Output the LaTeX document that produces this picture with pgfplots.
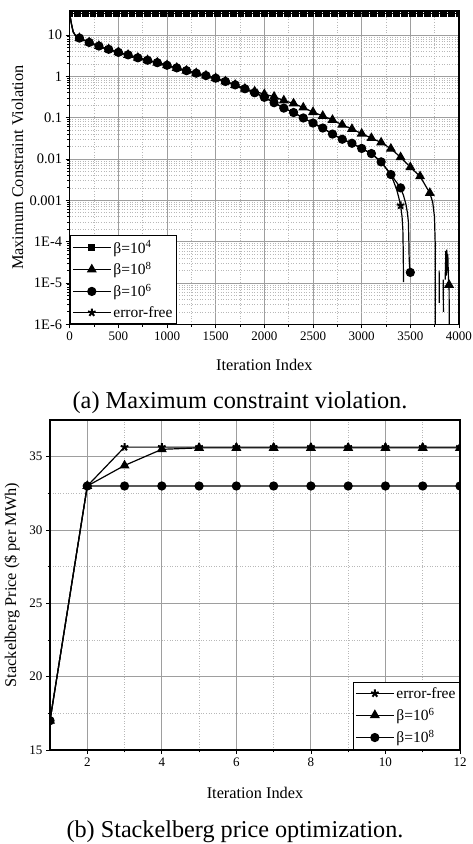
\documentclass[border=0pt]{standalone}
\usepackage{fontspec}
\setmainfont{Liberation Serif}
\usepackage{pgfplots}
\pgfplotsset{compat=1.18}

\pgfplotsset{
  common/.style={
    scale only axis,
    grid=both,
    major grid style={line width=0.9pt, color=black!38},
    minor grid style={line width=0.6pt, dotted, color=black!28},
    axis line style={line width=1.1pt, black},
    tick style={line width=0.8pt, black},
    major tick length=4pt, minor tick length=2.5pt,
    tick align=outside, tick pos=left,
    clip marker paths=true,
    unbounded coords=jump,
    label style={font=\fontsize{16.3}{16.3}\selectfont},
    legend cell align=left,
    legend image code/.code={\draw[mark repeat=2,mark phase=2] plot coordinates {(0pt,0pt)(19pt,0pt)(38pt,0pt)};},
  },
  ln/.style={black, line width=1.2pt, mark=none},
  sq/.style={black, line width=1.2pt, mark=square*, mark size=2.8pt, mark options={solid}},
  tri/.style={black, line width=1.2pt, mark=triangle*, mark size=4.6pt, mark options={solid}},
  cir/.style={black, line width=1.2pt, mark=*, mark size=4pt, mark options={solid}},
  sta/.style={black, line width=1.2pt, mark=star, mark size=4pt, mark options={solid, fill=black, line width=2pt}},
}

\pgfplotstableread{
x y
0 33
15 20
35 12
60 9.6
100 8.4
200 6.6
300 5.4
400 4.5
500 3.8
600 3.3
700 2.8
800 2.45
900 2.14
1000 1.85
1100 1.6
1200 1.37
1300 1.19
1400 1.04
1500 0.9
1600 0.75
1700 0.62
1800 0.5
1900 0.40
2000 0.31
2100 0.23
2200 0.17
2300 0.133
2400 0.098
2500 0.074
2600 0.056
2700 0.040
2800 0.030
2900 0.024
3000 0.018
3100 0.0135
3200 0.0085
3300 0.0042
3400 0.002
3430 0.0013
3455 0.0008
3470 0.0005
3480 0.0003
3485 0.0001
3488 0.00004
3492 0.000025
3500 0.000018
}\circline

\pgfplotstableread{
x y
100 8.4
200 6.6
300 5.4
400 4.5
500 3.8
600 3.3
700 2.8
800 2.45
900 2.14
1000 1.85
1100 1.6
1200 1.37
1300 1.19
1400 1.04
1500 0.9
1600 0.75
1700 0.62
1800 0.5
1900 0.40
2000 0.31
2100 0.23
2200 0.17
2300 0.133
2400 0.098
2500 0.074
2600 0.056
2700 0.040
2800 0.030
2900 0.024
3000 0.018
3100 0.0135
3200 0.0085
3300 0.0042
3400 0.002
3500 0.000018
}\circmarks

\pgfplotstableread{
x y
0 33
15 20
35 12
60 9.6
100 8.4
200 6.6
300 5.4
400 4.5
500 3.8
600 3.3
700 2.8
800 2.45
900 2.14
1000 1.85
1100 1.6
1200 1.37
1300 1.19
1400 1.04
1500 0.9
1600 0.75
1700 0.62
1800 0.5
1900 0.40
2000 0.31
2100 0.23
2200 0.17
2300 0.133
2400 0.098
2500 0.074
2600 0.056
2700 0.040
2800 0.030
2900 0.024
3000 0.018
3100 0.0135
3200 0.0085
3300 0.0042
3330 0.0028
3360 0.0018
3380 0.0012
3400 0.00075
3415 0.0004
3423 0.0002
3427 0.00006
3430 0.0000105
}\starline

\pgfplotstableread{
x y
100 8.4
200 6.6
300 5.4
400 4.5
500 3.8
600 3.3
700 2.8
800 2.45
900 2.14
1000 1.85
1100 1.6
1200 1.37
1300 1.19
1400 1.04
1500 0.9
1600 0.75
1700 0.62
1800 0.5
1900 0.40
2000 0.31
2100 0.23
2200 0.17
2300 0.133
2400 0.098
2500 0.074
2600 0.056
2700 0.040
2800 0.030
2900 0.024
3000 0.018
3100 0.0135
3200 0.0085
3300 0.0042
3400 0.00075
}\starmarks

\pgfplotstableread{
x y
0 33
15 20
35 12
60 9.6
100 8.4
200 6.6
300 5.4
400 4.5
500 3.8
600 3.3
700 2.8
800 2.45
900 2.14
1000 1.85
1100 1.6
1200 1.37
1300 1.19
1400 1.04
1500 0.9
1600 0.75
1700 0.62
1800 0.5
1900 0.43
2000 0.37
2100 0.32
2200 0.26
2300 0.22
2400 0.175
2500 0.136
2600 0.11
2700 0.088
2800 0.067
2900 0.053
3000 0.041
3100 0.032
3200 0.025
3300 0.0177
3400 0.011
3500 0.0063
3600 0.0038
3700 0.0015
3730 0.0009
3748 0.0004
3755 0.0001
3757 0.00000001
3758 nan
3796 0.00002
3797 0.0000033
3798 nan
3838 0.000012
3840 0.000002
3841 nan
3858 0.000012
3865 0.00006
3870 0.000015
3875 0.000064
3880 0.00002
3885 0.00005
3892 0.000012
3898 0.000009
3905 0.00000001
}\triline

\pgfplotstableread{
x y
100 8.4
200 6.6
300 5.4
400 4.5
500 3.8
600 3.3
700 2.8
800 2.45
900 2.14
1000 1.85
1100 1.6
1200 1.37
1300 1.19
1400 1.04
1500 0.9
1600 0.75
1700 0.62
1800 0.5
1900 0.43
2000 0.37
2100 0.32
2200 0.26
2300 0.22
2400 0.175
2500 0.136
2600 0.11
2700 0.088
2800 0.067
2900 0.053
3000 0.041
3100 0.032
3200 0.025
3300 0.0177
3400 0.011
3500 0.0063
3600 0.0038
3700 0.0015
3898 0.000009
}\trimarks

\begin{document}
\begin{tikzpicture}
\useasboundingbox (0pt,0pt) rectangle (472pt,844pt);

% ---------------- (a) ----------------
\begin{axis}[common,
  at={(69.7pt,519.7pt)}, anchor=south west,
  width=389.3pt, height=313.3pt,
  xmin=0, xmax=4000, ymode=log, ymin=1e-6, ymax=38,
  xtick={0,500,...,4000}, minor x tick num=1,
  xticklabels={0,500,1000,1500,2000,2500,3000,3500,4000},
  ytick={1e-6,1e-5,1e-4,1e-3,1e-2,1e-1,1,10},
  yticklabels={1E-6,1E-5,1E-4,0.001,0.01,0.1,1,10},
  xticklabel style={font=\fontsize{13}{13}\selectfont},
  yticklabel style={font=\fontsize{14.5}{14.5}\selectfont},
  xlabel={Iteration Index},
  ylabel={Maximum Constraint Violation},
  xlabel style={at={(axis description cs:0.5,-0.13)}, anchor=center},
  ylabel style={at={(axis description cs:-0.134,0.5)}, anchor=center},
  legend style={at={(0,0)}, anchor=south west, draw=black, line width=1pt,
    font=\fontsize{15.5}{15.5}\selectfont, row sep=4pt, inner xsep=2pt, inner ysep=3pt},
]
\addplot[sq] coordinates {(0,33)(80,33)(160,33)(240,33)(320,33)(400,33)(480,33)(560,33)(640,33)(720,33)(800,33)(880,33)(960,33)(1040,33)(1120,33)(1200,33)(1280,33)(1360,33)(1440,33)(1520,33)(1600,33)(1680,33)(1760,33)(1840,33)(1920,33)(2000,33)(2080,33)(2160,33)(2240,33)(2320,33)(2400,33)(2480,33)(2560,33)(2640,33)(2720,33)(2800,33)(2880,33)(2960,33)(3040,33)(3120,33)(3200,33)(3280,33)(3360,33)(3440,33)(3520,33)(3600,33)(3680,33)(3760,33)(3840,33)(3920,33)(4000,33)};
\addlegendentry{β=10\textsuperscript{4}}
\addplot[ln, forget plot] table {\starline};
\addplot[sta, only marks, forget plot] table {\starmarks};
\addplot[ln, forget plot] table {\circline};
\addplot[cir, only marks, forget plot] table {\circmarks};
\addplot[ln, forget plot] table {\triline};
\addplot[tri, only marks, forget plot] table {\trimarks};
\addlegendimage{tri}
\addlegendentry{β=10\textsuperscript{8}}
\addlegendimage{cir}
\addlegendentry{β=10\textsuperscript{6}}
\addlegendimage{sta}
\addlegendentry{error-free}
\end{axis}

\node[font=\fontsize{24.3}{24.3}\selectfont] at (240pt,441pt) {(a) Maximum constraint violation.};

% ---------------- (b) ----------------
\begin{axis}[common,
  at={(50pt,94pt)}, anchor=south west,
  width=410pt, height=330pt,
  xmin=1, xmax=12, ymin=15, ymax=37.5,
  xtick={2,4,...,12}, minor x tick num=1,
  xticklabels={2,4,6,8,10,12},
  ytick={15,20,25,30,35}, minor y tick num=1,
  yticklabels={15,20,25,30,35},
  ticklabel style={font=\fontsize{13}{13}\selectfont},
  xlabel={Iteration Index},
  ylabel={Stackelberg Price (\$ per MWh)},
  xlabel style={at={(axis description cs:0.5,-0.131)}, anchor=center},
  ylabel style={at={(axis description cs:-0.093,0.5)}, anchor=center},
  legend style={at={(1,0)}, anchor=south east, draw=black, line width=1pt,
    font=\fontsize{15.5}{15.5}\selectfont, row sep=4.5pt, inner xsep=2pt, inner ysep=3pt},
]
\addplot[sta] coordinates {(1,17)(2,33)(3,35.65)(4,35.65)(5,35.65)(6,35.65)(7,35.65)(8,35.65)(9,35.65)(10,35.65)(11,35.65)(12,35.65)};
\addlegendentry{error-free}
\addplot[tri] coordinates {(1,17)(2,33)(3,34.4)(4,35.5)(5,35.6)(6,35.6)(7,35.6)(8,35.6)(9,35.6)(10,35.6)(11,35.6)(12,35.6)};
\addlegendentry{β=10\textsuperscript{6}}
\addplot[cir] coordinates {(1,17)(2,33)(3,33)(4,33)(5,33)(6,33)(7,33)(8,33)(9,33)(10,33)(11,33)(12,33)};
\addlegendentry{β=10\textsuperscript{8}}
\end{axis}

\node[font=\fontsize{24.2}{24.2}\selectfont] at (235pt,12pt) {(b) Stackelberg price optimization.};
\end{tikzpicture}
\end{document}
